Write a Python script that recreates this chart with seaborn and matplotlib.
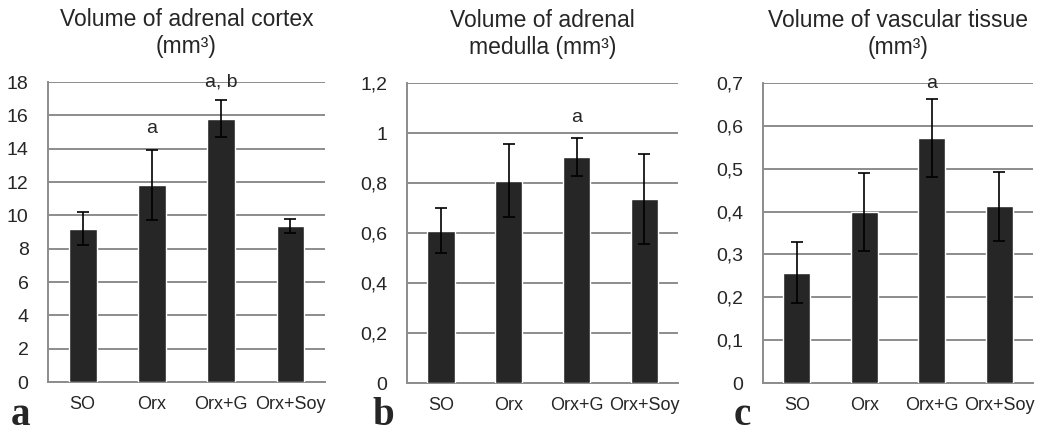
import numpy as np
import pandas as pd
import matplotlib
matplotlib.use("Agg")
import matplotlib.pyplot as plt
import seaborn as sns

groups = ["SO", "Orx", "Orx+G", "Orx+Soy"]

cortex_mean = [9.2, 11.85, 15.8, 9.35]
cortex_err = [1.0, 2.1, 1.1, 0.43]
cortex_marks = ["", "a", "a, b", ""]

medulla_mean = [0.61, 0.81, 0.905, 0.735]
medulla_err = [0.09, 0.147, 0.075, 0.18]
medulla_marks = ["", "", "a", ""]

vascular_mean = [0.257, 0.40, 0.572, 0.412]
vascular_err = [0.071, 0.091, 0.092, 0.08]
vascular_marks = ["", "", "a", ""]

titles = ["Volume of adrenal cortex\n(mm³)",
          "Volume of adrenal\nmedulla (mm³)",
          "Volume of vascular tissue\n(mm³)"]
panel_letters = ["a", "b", "c"]

cortex_ticks = [0, 2, 4, 6, 8, 10, 12, 14, 16, 18]
cortex_ticklabels = ["0", "2", "4", "6", "8", "10", "12", "14", "16", "18"]
medulla_ticks = [0, 0.2, 0.4, 0.6, 0.8, 1.0, 1.2]
medulla_ticklabels = ["0", "0,2", "0,4", "0,6", "0,8", "1", "1,2"]
vascular_ticks = [0, 0.1, 0.2, 0.3, 0.4, 0.5, 0.6, 0.7]
vascular_ticklabels = ["0", "0,1", "0,2", "0,3", "0,4", "0,5", "0,6", "0,7"]

sns.set_style("white")
plt.rcParams["font.family"] = ["Liberation Sans", "DejaVu Sans"]

fig = plt.figure(figsize=(10.51, 4.34), dpi=100)
boxes = [[0.0457, 0.1198, 0.2636, 0.691],
         [0.3873, 0.1175, 0.2580, 0.691],
         [0.7260, 0.1175, 0.2570, 0.691]]

panels = [
    (cortex_mean, cortex_err, cortex_marks, cortex_ticks, cortex_ticklabels),
    (medulla_mean, medulla_err, medulla_marks, medulla_ticks, medulla_ticklabels),
    (vascular_mean, vascular_err, vascular_marks, vascular_ticks, vascular_ticklabels),
]
grid_col = "#8c8c8c"
letter_x = [0.010, 0.354, 0.698]

for i, (mean, err, marks, ticks, tlabels) in enumerate(panels):
    ax = fig.add_axes(boxes[i])
    df = pd.DataFrame({"group": groups, "value": mean})
    sns.barplot(data=df, x="group", y="value", color="#262626", width=0.4,
                saturation=1, ax=ax, zorder=3)
    ax.errorbar(np.arange(len(groups)), mean, yerr=err, fmt="none",
                ecolor="black", elinewidth=1.2, capsize=4, capthick=1.2, zorder=4)
    top = ticks[-1]
    for j, m in enumerate(marks):
        if not m:
            continue
        ypos = mean[j] + err[j] + 0.07 * top
        if ypos > top:
            ypos = top
        ax.text(j, ypos, m, ha="center", va="center", fontsize=14, zorder=5)
    ax.set_ylim(ticks[0], top)
    ax.set_xlim(-0.5, len(groups) - 0.5)
    ax.set_yticks(ticks)
    ax.set_yticklabels(tlabels, fontsize=14)
    ax.set_xticks(range(len(groups)))
    ax.set_xticklabels(groups, fontsize=13)
    ax.tick_params(axis="x", length=0, pad=10)
    ax.tick_params(axis="y", length=0, pad=14)
    if i == 0:
        ax.set_xticks(np.arange(-0.5, len(groups), 1), minor=True)
        ax.tick_params(axis="x", which="minor", length=6, color=grid_col, width=1.2)
    ax.yaxis.grid(True, color=grid_col, linewidth=1.4, zorder=0)
    ax.set_axisbelow(True)
    ax.set_xlabel("")
    ax.set_ylabel("")
    for s in ["top", "right"]:
        ax.spines[s].set_visible(False)
    for s in ["left", "bottom"]:
        ax.spines[s].set_color(grid_col)
        ax.spines[s].set_linewidth(1.4)
    ax.set_title(titles[i], fontsize=16.5, pad=21, linespacing=1.2)
    fig.text(letter_x[i], 0.02, panel_letters[i], fontsize=28, fontweight="bold",
             family="Liberation Serif")

fig.savefig("out.png", dpi=100)
